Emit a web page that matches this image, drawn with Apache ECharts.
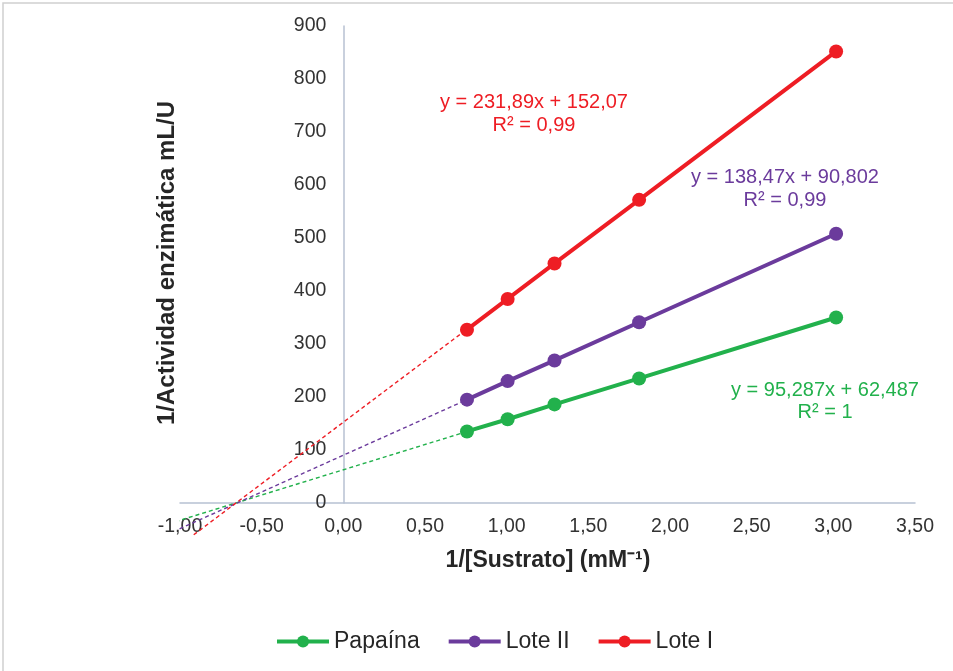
<!DOCTYPE html>
<html>
<head>
<meta charset="utf-8">
<script src="https://cdn.jsdelivr.net/npm/echarts@6/dist/echarts.min.js"></script>
<style>
html,body{margin:0;padding:0;background:#fff;}
#chart{width:953px;height:671px;}
</style>
</head>
<body>
<div id="chart"></div>
<script>
// ---- Data ----
const xValues = [0.757, 1.006, 1.293, 1.811, 3.017];
const papaina = [135, 158, 186, 235, 350];
const loteII = [195, 230, 269, 341, 508];
const loteI = [327, 385, 452, 572, 852];

// trendline endpoints (x, y)
const papainaTrend = [[-1.11, -43], [3.017, 350]];
const loteIITrend = [[-1.12, -65], [3.017, 508]];
const loteITrend = [[-0.916, -60], [3.017, 852]];

const seriesNames = ['Papaína', 'Lote II', 'Lote I'];
const equations = [
  ['y = 95,287x + 62,487', 'R² = 1'],
  ['y = 138,47x + 90,802', 'R² = 0,99'],
  ['y = 231,89x + 152,07', 'R² = 0,99']
];
const xTitle = '1/[Sustrato] (mM⁻¹)';
const yTitle = '1/Actividad enzimática mL/U';

const colors = ['#22B14C', '#6B3B9C', '#EE1D24'];
const FONT = 'Liberation Sans, Arial, sans-serif';

function pairs(xs, ys) { return xs.map((x, i) => [x, ys[i]]); }

const solid = [papaina, loteII, loteI];
const trends = [papainaTrend, loteIITrend, loteITrend];

const series = [];
trends.forEach((t, i) => {
  series.push({
    name: seriesNames[i] + ' (tendencia)',
    type: 'line',
    data: t,
    symbol: 'none',
    clip: false,
    silent: true,
    lineStyle: { color: colors[i], width: 1.4, type: [4, 3] },
    z: 1
  });
});
solid.forEach((s, i) => {
  series.push({
    name: seriesNames[i],
    type: 'line',
    data: pairs(xValues, s),
    symbol: 'circle',
    symbolSize: 14,
    clip: false,
    itemStyle: { color: colors[i] },
    lineStyle: { color: colors[i], width: 4 },
    z: 3
  });
});

const eqPos = [[825, 390.5, 412.5], [785, 177.5, 200], [534, 102, 125]];
const graphics = [
  { type: 'rect', shape: { x: 3, y: 3, width: 1000, height: 1000 }, style: { fill: 'none', stroke: '#D0D0D0', lineWidth: 1.5 }, silent: true },
  { type: 'text', x: 167, y: 263, rotation: Math.PI / 2,
    style: { text: yTitle, fontSize: 24, fontWeight: 'bold', fontFamily: FONT, fill: '#262626', align: 'center', verticalAlign: 'middle' } },
  { type: 'text', x: 548, y: 561,
    style: { text: xTitle, fontSize: 23, fontWeight: 'bold', fontFamily: FONT, fill: '#262626', align: 'center', verticalAlign: 'middle' } }
];
equations.forEach((eq, i) => {
  graphics.push({ type: 'text', x: eqPos[i][0], y: eqPos[i][1],
    style: { text: eq[0], fontSize: 20, fontFamily: FONT, fill: colors[i], align: 'center', verticalAlign: 'middle' } });
  graphics.push({ type: 'text', x: eqPos[i][0], y: eqPos[i][2],
    style: { text: eq[1], fontSize: 20, fontFamily: FONT, fill: colors[i], align: 'center', verticalAlign: 'middle' } });
});

const GRID_LEFT = 180;
const chart = echarts.init(document.getElementById('chart'), null, { renderer: 'canvas' });
chart.setOption({
  animation: false,
  backgroundColor: '#ffffff',
  textStyle: { fontFamily: FONT },
  grid: { left: GRID_LEFT, right: 38, top: 26, bottom: 168, containLabel: false },
  xAxis: {
    type: 'value',
    min: -1, max: 3.5, interval: 0.5,
    axisLine: { show: true, lineStyle: { color: '#B7C1D2', width: 1.5 } },
    axisTick: { show: false },
    splitLine: { show: false },
    axisLabel: {
      color: '#333333', fontSize: 19.5, fontFamily: FONT, margin: 14,
      formatter: v => v.toFixed(2).replace('.', ',')
    }
  },
  yAxis: {
    type: 'value',
    min: 0, max: 900, interval: 100,
    axisLine: { show: true, onZero: false, lineStyle: { color: '#B7C1D2', width: 1.5 } },
    axisTick: { show: false },
    splitLine: { show: false },
    axisLabel: { color: '#333333', fontSize: 19.5, fontFamily: FONT, margin: 17 }
  },
  legend: {
    data: seriesNames,
    left: 270, top: 625,
    itemWidth: 52, itemHeight: 15, itemGap: 27,
    lineStyle: { width: 4 },
    textStyle: { fontSize: 23, color: '#262626', fontFamily: FONT }
  },
  series: series,
  graphic: graphics
});
// place the y axis (line and labels) at x = 0, as in the reference
const zeroPx = chart.convertToPixel({ xAxisIndex: 0 }, 0);
chart.setOption({ yAxis: { offset: -(zeroPx - GRID_LEFT) } });
</script>
</body>
</html>
